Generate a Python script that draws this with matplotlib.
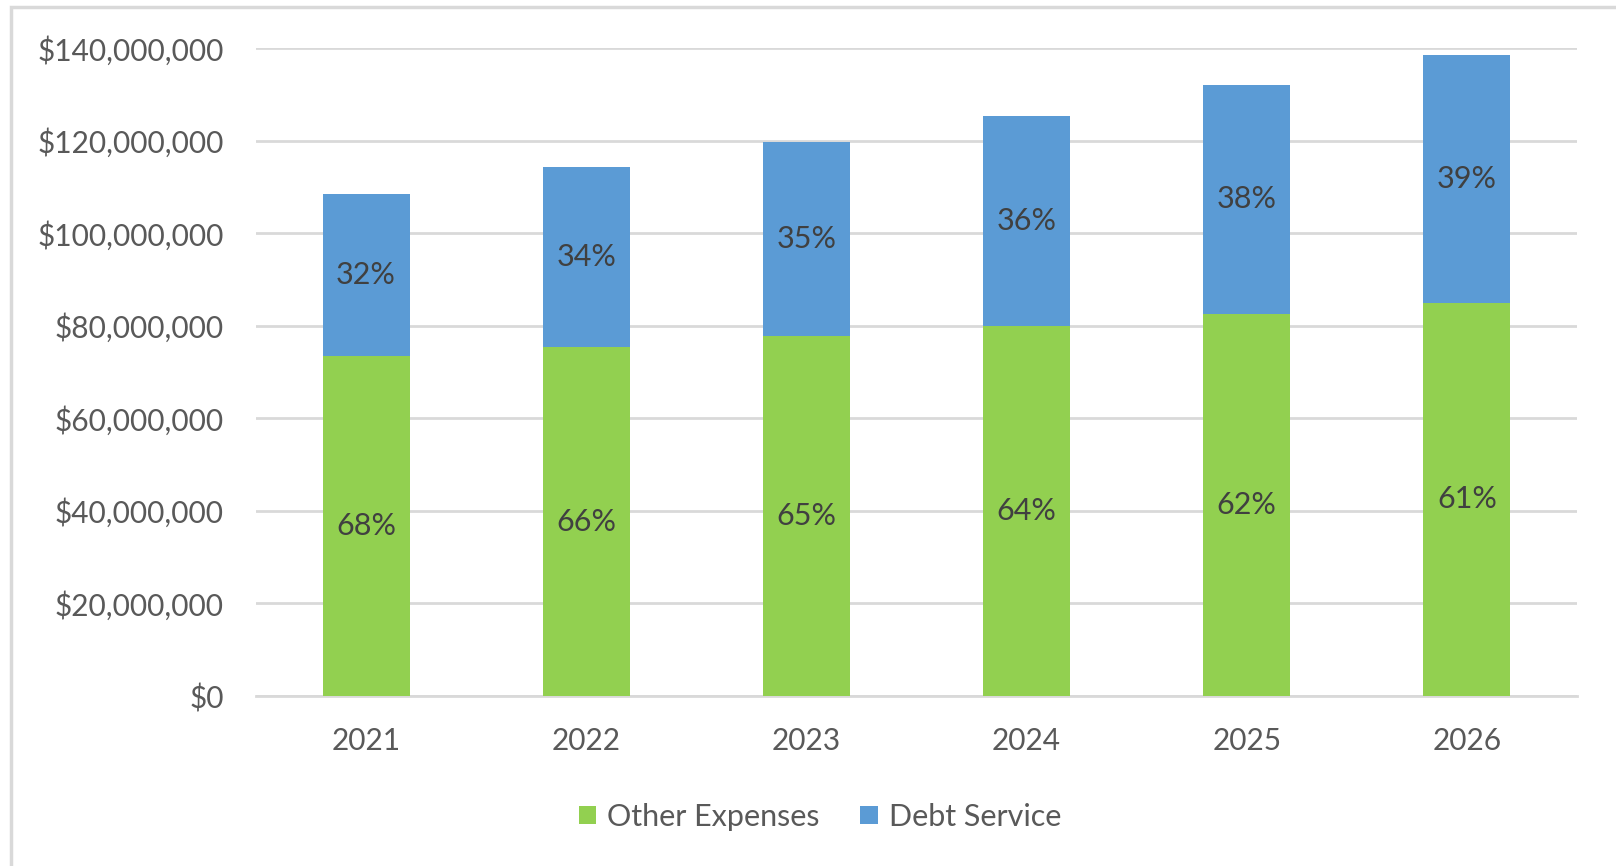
import matplotlib
matplotlib.use('Agg')
import matplotlib.pyplot as plt
from matplotlib.patches import Rectangle
from matplotlib.ticker import FuncFormatter

plt.rcParams['font.family'] = ['Lato', 'DejaVu Sans']

# yearly expenses, dollars
years = ['2021', '2022', '2023', '2024', '2025', '2026']
other_expenses = [73.5e6, 75.3e6, 77.8e6, 80.0e6, 82.5e6, 85.0e6]
debt_service = [35.0e6, 39.0e6, 41.8e6, 45.4e6, 49.6e6, 53.4e6]

green = '#92D050'
blue = '#5B9BD5'
grid_c = '#D9D9D9'
tick_c = '#595959'
label_c = '#404040'

fig = plt.figure(figsize=(16.16, 8.66), dpi=100)
ax = fig.add_axes([0.1584, 0.1963, 0.8175, 0.7483])

x = range(len(years))
b1 = ax.bar(x, other_expenses, width=0.395, color=green, label='Other Expenses', zorder=3)
b2 = ax.bar(x, debt_service, width=0.395, bottom=other_expenses, color=blue,
            label='Debt Service', zorder=3)

# share of total written in the middle of each segment
for i in x:
    tot = other_expenses[i] + debt_service[i]
    ax.text(i, other_expenses[i] / 2, f'{other_expenses[i] / tot:.0%}',
            ha='center', va='center', fontsize=22, color=label_c, zorder=4)
    ax.text(i, other_expenses[i] + debt_service[i] / 2, f'{debt_service[i] / tot:.0%}',
            ha='center', va='center', fontsize=22, color=label_c, zorder=4)

ax.set_xlim(-0.5, len(years) - 0.5)
ax.set_ylim(0, 140e6)
ax.set_yticks([i * 20e6 for i in range(8)])
ax.yaxis.set_major_formatter(FuncFormatter(lambda v, p: f'${v:,.0f}'))
ax.set_xticks(list(x))
ax.set_xticklabels(years)
ax.tick_params(axis='y', length=0, pad=23, labelsize=21.5, labelcolor=tick_c)
ax.tick_params(axis='x', length=0, pad=22, labelsize=21.5, labelcolor=tick_c)
ax.grid(axis='y', color=grid_c, linewidth=2, zorder=0)
ax.set_axisbelow(True)
for s in ['top', 'right', 'left']:
    ax.spines[s].set_visible(False)
ax.spines['bottom'].set_color(grid_c)
ax.spines['bottom'].set_linewidth(2)

fig.legend(handles=[b1, b2], loc='center', bbox_to_anchor=(0.5074, 0.0566),
           ncol=2, frameon=False, fontsize=22, handlelength=0.56, handleheight=0.56,
           handletextpad=0.36, columnspacing=1.34, labelcolor=tick_c)

# light chart-area border
fig.patches.append(Rectangle((11 / 1616, -0.01), 1.0, 1 - 7 / 866 + 0.01,
                             transform=fig.transFigure, fill=False,
                             edgecolor=grid_c, linewidth=2.5))

fig.savefig('out.png', dpi=100)
